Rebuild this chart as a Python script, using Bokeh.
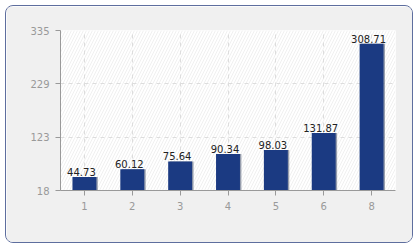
from bokeh.plotting import figure
from bokeh.models import FixedTicker, BoxAnnotation, ColumnDataSource
from bokeh.transform import dodge
from bokeh.core.properties import value
from bokeh.embed import file_html
from bokeh.resources import INLINE

categories = ["1", "2", "3", "4", "5", "6", "8"]
values = [44.73, 60.12, 75.64, 90.34, 98.03, 131.87, 308.71]
value_labels = ["44.73", "60.12", "75.64", "90.34", "98.03", "131.87", "308.71"]
y_ticks = [18, 123.67, 229.33, 335]
y_tick_labels = ["18", "123", "229", "335"]
y_min, y_max = 18, 335

src = ColumnDataSource(dict(x=categories, top=values, label=value_labels))

p = figure(width=408, height=238, x_range=categories, y_range=(y_min, y_max),
           output_backend="svg", toolbar_location=None,
           min_border_left=54, min_border_right=19, min_border_top=24, min_border_bottom=54)
p.margin = (5, 0, 0, 5)
p.styles = {"border": "1px solid #5e6e9e", "border-radius": "8px", "overflow": "hidden"}
p.border_fill_color = "#f0f0f0"
p.background_fill_color = "white"
p.outline_line_color = None

p.add_layout(BoxAnnotation(fill_color="white", fill_alpha=1, line_color=None,
                           hatch_pattern="/", hatch_color="#f0f0f0", hatch_scale=6,
                           hatch_weight=1, level="image"))

font = "DejaVu Sans"
# subtle shadow to the right of each bar
p.vbar(x=dodge("x", 0.03, range=p.x_range), top="top", bottom=y_min, width=0.5,
       source=src, fill_color="#55607a", fill_alpha=0.6, line_color=None)
p.vbar(x="x", top="top", bottom=y_min, width=0.5, source=src,
       fill_color="#1b3a82", line_color=None)
p.text(x="x", y="top", text="label", source=src, text_align="center",
       text_baseline="bottom", x_offset=-3, y_offset=-1, text_font=value(font),
       text_font_size="10px", text_color="#222222")

p.yaxis.ticker = FixedTicker(ticks=y_ticks)
p.yaxis.major_label_overrides = {t: l for t, l in zip(y_ticks, y_tick_labels)}
for ax in (p.xaxis[0], p.yaxis[0]):
    ax.axis_line_color = "#999999"
    ax.major_tick_line_color = "#999999"
    ax.major_tick_out = 5
    ax.major_tick_in = 0
    ax.minor_tick_line_color = None
    ax.major_label_text_color = "#999999"
    ax.major_label_text_font = font
    ax.major_label_text_font_size = "10px"
p.xaxis.major_label_standoff = 6
p.yaxis.major_label_standoff = 6

for g in (p.xgrid[0], p.ygrid[0]):
    g.grid_line_color = "#dddddd"
    g.grid_line_dash = "4 4"
    g.grid_line_width = 1

open("out.html", "w").write(file_html(p, INLINE))
